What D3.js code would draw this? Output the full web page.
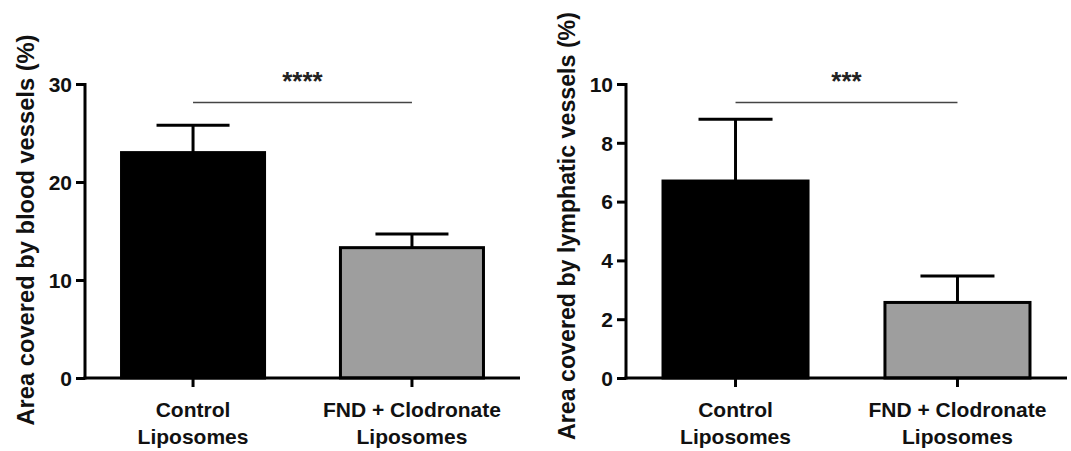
<!DOCTYPE html>
<html>
<head>
<meta charset="utf-8">
<script src="https://cdn.jsdelivr.net/npm/d3@7"></script>
<style>
  html, body { margin: 0; padding: 0; background: #fff; }
  svg { display: block; font-family: "Liberation Sans", Arial, sans-serif; }
  .tick-label, .cat-label, .y-title { font-weight: bold; fill: #111; }
</style>
</head>
<body>
<svg id="chart" width="1071" height="451"></svg>
<script>
// data
const categories = ["Control|Liposomes", "FND + Clodronate|Liposomes"];
const bloodMean = [23.0, 13.3];
const bloodErr = [2.8, 1.4];
const lymphMean = [6.7, 2.57];
const lymphErr = [2.1, 0.9];
const bloodTicks = [0, 10, 20, 30];
const lymphTicks = [0, 2, 4, 6, 8, 10];
const barColors = ["#000000", "#9e9e9e"];

const panels = [
  { title: "Area covered by blood vessels (%)", mean: bloodMean, err: bloodErr, ticks: bloodTicks, max: 30,
    x0: 85, x1: 520, titleX: 34, titleY: 230, titleSize: 23.7, stars: "****" },
  { title: "Area covered by lymphatic vessels (%)", mean: lymphMean, err: lymphErr, ticks: lymphTicks, max: 10,
    x0: 626, x1: 1067, titleX: 575, titleY: 226, titleSize: 23.2, stars: "***" }
];

const svg = d3.select("#chart");
const Y0 = 378, Y1 = 84;

panels.forEach((p) => {
  const g = svg.append("g");
  const y = d3.scaleLinear().domain([0, p.max]).range([Y0, Y1]);
  const x = d3.scaleBand().domain(categories).range([p.x0, p.x1]).paddingInner(0.333).paddingOuter(0.16);

  // bars
  g.selectAll(".bar").data(p.mean).join("rect")
    .attr("x", (d, i) => x(categories[i]) + 1.5).attr("width", x.bandwidth() - 3)
    .attr("y", (d) => y(d)).attr("height", (d) => Y0 - y(d))
    .attr("fill", (d, i) => barColors[i]).attr("stroke", "#000").attr("stroke-width", 3);

  // error bars (upper only)
  const cx = (i) => x(categories[i]) + x.bandwidth() / 2;
  const capW = x.bandwidth() / 2;
  g.selectAll(".stem").data(p.mean).join("line")
    .attr("x1", (d, i) => cx(i)).attr("x2", (d, i) => cx(i))
    .attr("y1", (d) => y(d)).attr("y2", (d, i) => y(d + p.err[i]))
    .attr("stroke", "#000").attr("stroke-width", 3);
  g.selectAll(".cap").data(p.mean).join("line")
    .attr("x1", (d, i) => cx(i) - capW / 2).attr("x2", (d, i) => cx(i) + capW / 2)
    .attr("y1", (d, i) => y(d + p.err[i])).attr("y2", (d, i) => y(d + p.err[i]))
    .attr("stroke", "#000").attr("stroke-width", 3);

  // y axis
  const ya = g.append("g").attr("transform", `translate(${p.x0},0)`)
    .call(d3.axisLeft(y).tickValues(p.ticks).tickSize(9).tickPadding(4).tickFormat(d3.format("d")));
  ya.select(".domain").attr("stroke", "#000").attr("stroke-width", 3).attr("d", `M0,${Y0 + 1.5}V${Y1 - 1}`);
  ya.selectAll(".tick line").attr("stroke", "#000").attr("stroke-width", 3);
  ya.selectAll(".tick text").attr("class", "tick-label").style("font-size", "21px")
    .style("font-family", "Liberation Sans, Arial, sans-serif").attr("dy", "0.35em");

  // x axis
  const xa = g.append("g").attr("transform", `translate(0,${Y0})`)
    .call(d3.axisBottom(x).tickSize(9).tickFormat(""));
  xa.select(".domain").attr("stroke", "#000").attr("stroke-width", 3).attr("d", `M${p.x0 - 1.5},0H${p.x1}`);
  xa.selectAll(".tick line").attr("stroke", "#000").attr("stroke-width", 3);

  // category labels, two lines
  categories.forEach((c, i) => {
    const t = g.append("text").attr("class", "cat-label").attr("text-anchor", "middle")
      .style("font-size", "21px");
    c.split("|").forEach((line, k) => {
      t.append("tspan").attr("x", cx(i)).attr("y", 417 + k * 27).text(line);
    });
  });

  // y title
  g.append("text").attr("class", "y-title").attr("text-anchor", "middle")
    .attr("transform", `translate(${p.titleX},${p.titleY}) rotate(-90)`)
    .style("font-size", p.titleSize + "px").text(p.title);

  // significance bar
  g.append("line").attr("x1", cx(0)).attr("x2", cx(1)).attr("y1", 102.5).attr("y2", 102.5)
    .attr("stroke", "#444").attr("stroke-width", 1.3);
  g.append("text").attr("x", (cx(0) + cx(1)) / 2).attr("y", 90).attr("text-anchor", "middle")
    .style("font-size", "26px").style("font-weight", "bold").attr("fill", "#222").text(p.stars);
});
</script>
</body>
</html>
